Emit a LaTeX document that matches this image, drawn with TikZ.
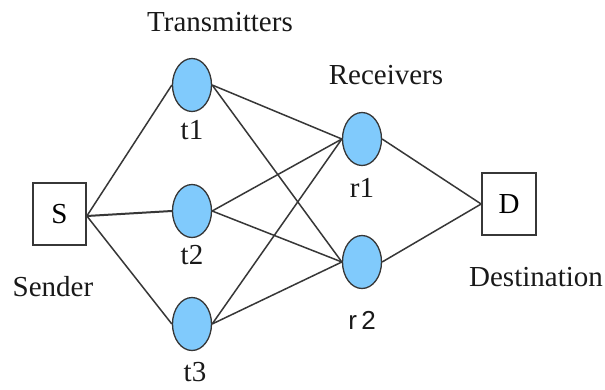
\documentclass[tikz,border=0pt]{standalone}
\usepackage{fontspec}
\setmainfont{Liberation Serif}
\newfontfamily\arialf{Liberation Sans}
\usetikzlibrary{shapes.geometric}
\definecolor{nodeblue}{RGB}{128,202,252}
\definecolor{edgegray}{RGB}{55,55,55}
\tikzset{
  x=1pt, y=-1pt,
  txt/.style={font=\fontsize{29}{30}\selectfont, text=black!90, inner sep=0pt},
  endbox/.style={draw=edgegray, line width=1.7pt, minimum width=53pt, minimum height=62pt, inner sep=0pt, font=\fontsize{29}{30}\selectfont},
  relay/.style={ellipse, draw=edgegray, line width=1.3pt, fill=nodeblue, minimum width=39pt, minimum height=53pt, inner sep=0pt},
  link/.style={draw=edgegray, line width=1.5pt}
}
\begin{document}
\begin{tikzpicture}
\useasboundingbox[fill=white] (0,0) rectangle (605,389);
\node[endbox] (S) at (59.5,214) {S};
\node[endbox, minimum width=54pt] (D) at (509,204) {D};
\node[relay] (t1) at (192,85) {};
\node[relay] (t2) at (192,211) {};
\node[relay] (t3) at (192,324) {};
\node[relay] (r1) at (362,139) {};
\node[relay] (r2) at (362,262) {};
\node[txt] (lT) at (220,22) {Transmitters};
\node[txt] (lR) at (386,75) {Receivers};
\node[txt] (lS) at (53,287) {Sender};
\node[txt] (lD) at (536,277) {Destination};
\node[txt] (l1) at (192,130) {t1};
\node[txt] (l2) at (192,255) {t2};
\node[txt] (l3) at (195,372) {t3};
\node[txt] (l4) at (362,188) {r1};
\node[txt, font=\arialf\fontsize{26}{28}\selectfont] (l5) at (362,320) {r\,2};
\coordinate (Sout) at ([yshift=-2pt]S.east);
\draw[link] (Sout) -- (t1.west);
\draw[link, line width=2pt] (Sout) -- (t2.west);
\draw[link] (Sout) -- (t3.west);
\draw[link] (t1.east) -- (r1.west);
\draw[link] (t1.east) -- (r2.west);
\draw[link] (t2.east) -- (r1.west);
\draw[link] (t2.east) -- (r2.west);
\draw[link] (t3.east) -- (r1.west);
\draw[link] (t3.east) -- (r2.west);
\draw[link] (r1.east) -- (D.west);
\draw[link] (r2.east) -- (D.west);
\end{tikzpicture}
\end{document}
